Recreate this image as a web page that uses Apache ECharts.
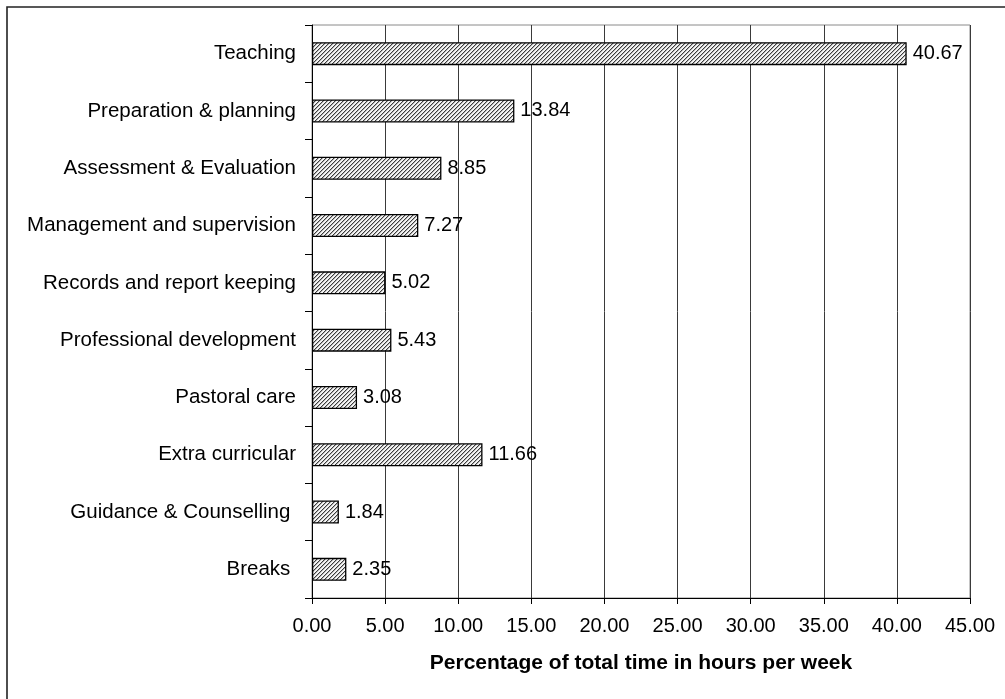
<!DOCTYPE html>
<html>
<head>
<meta charset="utf-8">
<script src="https://cdn.jsdelivr.net/npm/echarts@6/dist/echarts.min.js"></script>
<style>
  html, body { margin: 0; padding: 0; background: #fff; }
  #chart { width: 1005px; height: 699px; }
</style>
</head>
<body>
<div id="chart"></div>
<script>
// Activities, top to bottom
const categories = [
  'Teaching',
  'Preparation & planning',
  'Assessment & Evaluation',
  'Management and supervision',
  'Records and report keeping',
  'Professional development',
  'Pastoral care',
  'Extra curricular',
  'Guidance & Counselling ',
  'Breaks '
];
// Share of weekly working time (%)
const values = [40.67, 13.84, 8.85, 7.27, 5.02, 5.43, 3.08, 11.66, 1.84, 2.35];
// X axis range
const xMin = 0, xMax = 45, xStep = 5;
const axisTitle = 'Percentage of total time in hours per week';

// Diagonal hatch fill for the bars
function makeHatch() {
  const c = document.createElement('canvas');
  c.width = 4; c.height = 4;
  const g = c.getContext('2d');
  g.fillStyle = '#f4f4f4';
  g.fillRect(0, 0, 4, 4);
  for (let y = 0; y < 4; y++) {
    const x = 3 - y;
    g.fillStyle = '#3c3c3c';
    g.fillRect(x, y, 1, 1);
    g.fillStyle = '#b4b4b4';
    g.fillRect((x + 1) % 4, y, 1, 1);
  }
  return c;
}

const FONT = "'Liberation Sans', Arial, sans-serif";
const chart = echarts.init(document.getElementById('chart'), null, { renderer: 'canvas' });

chart.setOption({
  backgroundColor: '#ffffff',
  animation: false,
  graphic: [{
    type: 'rect',
    silent: true,
    z: 100,
    shape: { x: 7, y: 7, width: 1100, height: 800 },
    style: { fill: 'none', stroke: '#222', lineWidth: 1.6 }
  }],
  grid: {
    left: 312, right: 35, top: 25, bottom: 101,
    show: true, borderColor: '#8a8a8a', borderWidth: 1,
    containLabel: false
  },
  xAxis: {
    type: 'value',
    min: xMin, max: xMax, interval: xStep,
    name: axisTitle,
    nameLocation: 'middle',
    nameGap: 55,
    nameTextStyle: { fontFamily: FONT, fontSize: 21, fontWeight: 'bold', color: '#000' },
    axisLine: { show: true, lineStyle: { color: '#000', width: 1 } },
    axisTick: { show: true, length: 6, lineStyle: { color: '#000' } },
    axisLabel: {
      margin: 18, fontFamily: FONT, fontSize: 20, color: '#000',
      formatter: v => v.toFixed(2)
    },
    splitLine: { show: true, lineStyle: { color: '#3a3a3a', width: 1 } }
  },
  yAxis: {
    type: 'category',
    data: categories,
    inverse: true,
    axisLine: { show: true, lineStyle: { color: '#000', width: 1 } },
    axisTick: { show: true, length: 7, lineStyle: { color: '#000' } },
    axisLabel: { margin: 16, fontFamily: FONT, fontSize: 20.5, color: '#000' },
    splitLine: { show: false }
  },
  series: [{
    type: 'bar',
    data: values,
    barWidth: 23,
    itemStyle: {
      color: { image: makeHatch(), repeat: 'repeat' },
      borderColor: '#000',
      borderWidth: 1.3
    },
    label: {
      show: true,
      position: 'right',
      distance: 6,
      fontFamily: FONT,
      fontSize: 20,
      color: '#000',
      formatter: p => p.value.toFixed(2)
    }
  }]
});
</script>
</body>
</html>
